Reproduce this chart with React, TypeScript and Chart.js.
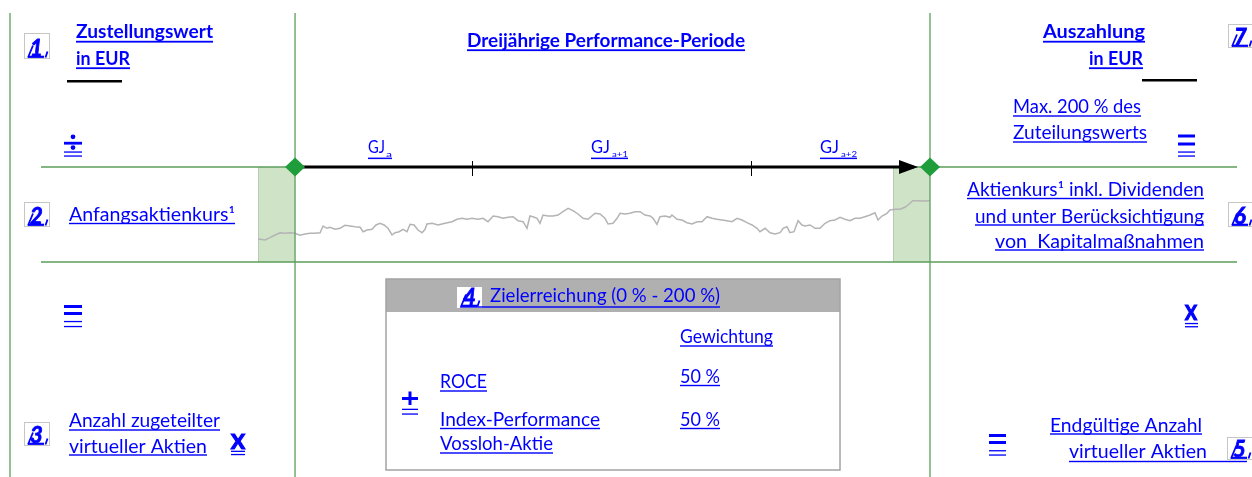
import { useEffect, useRef } from "react";
import { Chart, registerables } from "chart.js";

Chart.register(...registerables);

// Stock price path (months relative to start of the performance period, price in EUR – illustrative)
const months = [-2.10,-1.98,-1.70,-1.42,-1.13,-0.85,-0.57,-0.28,0,0.28,0.57,0.85,1.13,1.42,1.59,1.81,1.98,2.27,2.55,2.83,3.12,3.40,3.69,3.86,4.08,4.37,4.59,4.82,5.05,5.27,5.50,5.67,5.90,6.12,6.35,6.52,6.75,6.97,7.20,7.37,7.48,7.77,8.11,8.50,8.90,9.18,9.47,9.75,10.03,10.37,10.66,10.94,11.23,11.51,11.79,12.08,12.36,12.64,12.93,13.15,13.32,13.49,13.72,13.89,14.06,14.34,14.63,14.91,15.19,15.48,15.76,16.04,16.33,16.61,16.89,17.01,17.29,17.57,17.75,18.03,18.26,18.43,18.71,18.99,19.28,19.56,19.84,20.13,20.30,20.52,20.69,20.98,21.26,21.37,21.66,21.94,22.22,22.51,22.79,23.07,23.36,23.64,23.92,24.21,24.49,24.77,25.06,25.34,25.62,25.91,26.19,26.36,26.65,26.93,27.21,27.50,27.67,27.89,28.06,28.29,28.52,28.74,28.91,29.20,29.48,29.76,30.05,30.33,30.61,30.90,31.18,31.46,31.75,32.03,32.31,32.60,32.88,33.05,33.28,33.56,33.73,34.02,34.30,34.58,34.75,35.03,35.32,35.60,36.00];
const prices = [40.5,40.35,40.0,41.15,42.5,43.65,43.35,43.65,43.35,42.35,43.0,43.35,43.35,43.65,47.0,45.85,46.35,45.35,45.85,47.35,47.0,46.65,46.35,44.15,45.0,45.35,47.5,48.35,47.5,45.85,42.5,43.65,44.15,45.35,44.15,47.85,47.5,45.0,43.65,45.35,48.0,48.35,47.5,48.35,49.15,50.35,50.85,50.35,50.85,50.35,50.85,49.15,52.0,51.65,50.85,51.35,51.65,49.65,49.15,45.85,52.0,51.65,50.85,48.35,52.5,52.0,52.0,52.5,54.15,55.85,54.65,53.0,50.85,50.35,52.5,53.35,53.0,50.85,48.0,48.35,50.85,53.35,53.0,53.35,54.15,54.15,52.5,52.0,50.85,47.85,51.65,52.0,51.35,52.5,50.35,50.0,48.65,48.0,49.15,49.15,51.65,50.85,50.35,50.0,49.65,49.15,50.85,50.0,48.65,47.5,45.85,44.15,45.85,43.65,43.0,43.65,45.85,46.65,43.65,44.15,49.65,47.5,47.0,47.5,45.85,45.85,48.35,49.65,50.0,51.35,50.35,49.65,50.85,50.85,51.65,52.5,53.65,50.0,52.0,53.35,55.0,55.35,55.35,56.35,57.5,59.65,59.65,59.5,59.65];

const periodStart = 0;
const periodEnd = 36;
const refWindow = 2.1; // months of averaging window before start / before end
const fiscalYears = ["a", "a+1", "a+2"];
const goalNames = ["ROCE", "Index-Performance", "Vossloh-Aktie"];
const goalWeights = [50, 50];

const BLUE = "#0000ff";
const GREEN_LINE = "#5c9f5c";
const DIAMOND = "#1f9d3a";
const SHADE = "#cfe3c7";
const FONT = "Lato, 'Open Sans', sans-serif";

type Ctx = CanvasRenderingContext2D;

function fitText(ctx: Ctx, s: string, left: number, right: number, base: number, size: number, bold: boolean, ul?: number, ulLeft?: number, ulRight?: number, heavy?: boolean) {
  ctx.save();
  ctx.font = `${bold ? "bold " : ""}${size}px ${FONT}`;
  ctx.fillStyle = BLUE;
  ctx.strokeStyle = BLUE;
  ctx.textBaseline = "alphabetic";
  ctx.textAlign = "left";
  const w = ctx.measureText(s).width;
  const target = right - left;
  ctx.translate(left, base);
  ctx.scale(target / w, 1);
  ctx.fillText(s, 0, 0);
  if (heavy) {
    ctx.lineWidth = 1.2;
    ctx.strokeText(s, 0, 0);
  }
  ctx.restore();
  if (ul !== undefined) {
    ctx.save();
    ctx.fillStyle = BLUE;
    const l = ulLeft ?? left;
    const r = ulRight ?? right;
    ctx.fillRect(l, ul - 0.7, r - l, bold ? 1.8 : 1.4);
    ctx.restore();
  }
}

function doubleLines(ctx: Ctx, x1: number, x2: number, y1: number, y2: number) {
  ctx.fillStyle = BLUE;
  ctx.fillRect(x1, y1 - 0.6, x2 - x1, 1.3);
  ctx.fillRect(x1, y2 - 0.6, x2 - x1, 1.3);
}

function equiv(ctx: Ctx, x1: number, x2: number, b1: number, b2: number, l1: number, l2: number) {
  ctx.fillStyle = BLUE;
  ctx.fillRect(x1, b1 - 1.5, x2 - x1, 3);
  ctx.fillRect(x1, b2 - 1.5, x2 - x1, 3);
  doubleLines(ctx, x1, x2, l1, l2);
}

function digitBox(ctx: Ctx, d: string, x: number, y: number, w: number, h: number, border: boolean, fill?: string) {
  ctx.save();
  if (fill) {
    ctx.fillStyle = fill;
    ctx.fillRect(x, y, w, h);
  }
  if (border) {
    ctx.strokeStyle = "#c6c6c6";
    ctx.lineWidth = 1;
    ctx.strokeRect(x + 0.5, y + 0.5, w - 1, h - 1);
  }
  ctx.fillStyle = BLUE;
  ctx.strokeStyle = BLUE;
  ctx.font = `italic bold 22px ${FONT}`;
  ctx.textAlign = "left";
  ctx.textBaseline = "alphabetic";
  const bl = y + h - 3.5;
  ctx.fillText(d, x + 6, bl);
  ctx.lineWidth = 0.8;
  ctx.strokeText(d, x + 6, bl);
  ctx.fillRect(x + 4, bl + 0.2, 16, 2.2);
  ctx.lineWidth = 1.8;
  ctx.beginPath();
  ctx.moveTo(x + 4, bl + 2);
  ctx.lineTo(x + 9, bl - 10);
  ctx.moveTo(x + w - 2.5, bl - 4);
  ctx.lineTo(x + w - 4.5, bl + 2);
  ctx.stroke();
  ctx.restore();
}

const diagramPlugin = {
  id: "diagram",
  beforeDatasetsDraw(chart: any) {
    const ctx: Ctx = chart.ctx;
    const xs = chart.scales.x;
    const { top, bottom } = chart.chartArea;
    const boxes = [
      [periodStart - refWindow, periodStart],
      [periodEnd - refWindow, periodEnd],
    ];
    ctx.save();
    for (const [a, b] of boxes) {
      const x1 = xs.getPixelForValue(a);
      const x2 = xs.getPixelForValue(b);
      ctx.fillStyle = SHADE;
      ctx.fillRect(x1, top, x2 - x1, bottom - top);
      ctx.strokeStyle = "#b9c9b3";
      ctx.lineWidth = 1;
      ctx.beginPath();
      ctx.moveTo(Math.round(x1) + 0.5, top);
      ctx.lineTo(Math.round(x1) + 0.5, bottom);
      ctx.stroke();
    }
    ctx.restore();
  },
  afterDatasetsDraw(chart: any) {
    const ctx: Ctx = chart.ctx;
    const xs = chart.scales.x;
    const { top, bottom } = chart.chartArea;
    const xStart = xs.getPixelForValue(periodStart);
    const xEnd = xs.getPixelForValue(periodEnd);
    const H = chart.height;

    ctx.save();
    // green grid lines
    ctx.strokeStyle = GREEN_LINE;
    ctx.lineWidth = 1.3;
    ctx.beginPath();
    for (const vx of [10, xStart, xEnd]) {
      ctx.moveTo(vx, 13);
      ctx.lineTo(vx, H);
    }
    for (const hy of [top, bottom]) {
      ctx.moveTo(41, hy);
      ctx.lineTo(1237, hy);
    }
    ctx.stroke();

    // timeline arrow
    ctx.strokeStyle = "#000";
    ctx.lineWidth = 3;
    ctx.beginPath();
    ctx.moveTo(xStart, top);
    ctx.lineTo(xEnd - 16, top);
    ctx.stroke();
    ctx.fillStyle = "#000";
    ctx.beginPath();
    ctx.moveTo(xEnd - 12, top);
    ctx.lineTo(xEnd - 31, top - 7);
    ctx.lineTo(xEnd - 31, top + 7);
    ctx.closePath();
    ctx.fill();
    ctx.lineWidth = 1;
    ctx.beginPath();
    for (const tx of [472.5, 751.5]) {
      ctx.moveTo(tx, top - 6);
      ctx.lineTo(tx, top + 9);
    }
    ctx.stroke();

    // diamonds
    ctx.fillStyle = DIAMOND;
    for (const dx of [xStart, xEnd]) {
      ctx.beginPath();
      ctx.moveTo(dx, top - 9.5);
      ctx.lineTo(dx + 10, top);
      ctx.lineTo(dx, top + 9.5);
      ctx.lineTo(dx - 10, top);
      ctx.closePath();
      ctx.fill();
    }

    // black lines under "in EUR"
    ctx.fillStyle = "#000";
    ctx.fillRect(67, 80, 55, 2.5);
    ctx.fillRect(1142, 79, 55, 2.5);
    ctx.restore();

    // headings
    fitText(ctx, "Zustellungswert", 76, 213, 38, 18.5, true, 41.5);
    fitText(ctx, "in EUR", 76, 130, 65, 18.5, true, 68);
    fitText(ctx, "Dreijährige Performance-Periode", 467, 745, 46.5, 18.5, true, 50);
    fitText(ctx, "Auszahlung", 1043, 1145, 38, 18.5, true, 41.5);
    fitText(ctx, "in EUR", 1089, 1143, 65, 18.5, true, 68);

    // fiscal years
    const gj = [[368, 385, 386, 392], [591, 610, 612, 628], [820, 839, 841, 857]];
    gj.forEach((g, i) => {
      fitText(ctx, "GJ", g[0], g[1], 153, 18, false);
      fitText(ctx, fiscalYears[i], g[2], g[3], 157, 8, false);
      ctx.fillStyle = BLUE;
      ctx.fillRect(g[0], 157.6, g[3] - g[0], 1.5);
    });

    // right top
    fitText(ctx, "Max. 200 % des", 1013, 1141, 113, 18.5, false, 116);
    fitText(ctx, "Zuteilungswerts", 1013, 1147, 139, 18.5, false, 142);
    equiv(ctx, 1178, 1195, 136, 144, 152, 156);

    // left top divide
    ctx.save();
    ctx.fillStyle = BLUE;
    ctx.beginPath();
    ctx.arc(73, 136.8, 2.4, 0, Math.PI * 2);
    ctx.arc(73, 147.6, 2.4, 0, Math.PI * 2);
    ctx.fill();
    ctx.fillRect(64, 141.8, 18, 2.8);
    doubleLines(ctx, 64, 82, 152, 156);
    ctx.restore();

    // row 2
    fitText(ctx, "Anfangsaktienkurs¹", 69, 235, 221, 18.5, false, 223.5);
    fitText(ctx, "Aktienkurs¹ inkl. Dividenden", 967, 1204, 196, 18.5, false, 198.5);
    fitText(ctx, "und unter Berücksichtigung", 975, 1204, 222.5, 18.5, false, 225);
    fitText(ctx, "von  Kapitalmaßnahmen", 995, 1204, 247.5, 18.5, false, 250);

    // number icons
    digitBox(ctx, "1", 24, 33, 26, 26, true);
    digitBox(ctx, "2", 24, 202, 26, 25, true);
    digitBox(ctx, "3", 24, 422, 26, 24, true);
    digitBox(ctx, "7", 1228, 24, 26, 24, true);
    digitBox(ctx, "6", 1228, 202, 26, 25, true);
    digitBox(ctx, "5", 1227, 437, 26, 23, true);

    // equals / multiply signs
    equiv(ctx, 64, 82, 306.5, 313.5, 321.5, 326.5);
    equiv(ctx, 989, 1006, 435.5, 442.5, 450.7, 455);
    fitText(ctx, "X", 1185, 1197, 320, 20, true, undefined, undefined, undefined, true);
    doubleLines(ctx, 1185, 1198, 323.5, 326.7);
    fitText(ctx, "X", 231, 245, 448.5, 20, true, undefined, undefined, undefined, true);
    doubleLines(ctx, 231, 245, 451.3, 454.5);

    // bottom texts
    fitText(ctx, "Anzahl zugeteilter", 69, 220, 427, 18.5, false, 430);
    fitText(ctx, "virtueller Aktien", 69, 207, 452.5, 18.5, false, 455);
    fitText(ctx, "Endgültige Anzahl", 1050, 1202, 431.5, 18.5, false, 434);
    fitText(ctx, "virtueller Aktien", 1069, 1207, 458, 18.5, false, 461.5, 1069, 1247);

    // Zielerreichung box
    ctx.save();
    ctx.fillStyle = "#b0b0b0";
    ctx.fillRect(386, 279, 454, 33);
    ctx.strokeStyle = "#a3a3a3";
    ctx.lineWidth = 1.5;
    ctx.strokeRect(386, 279, 454, 191);
    ctx.restore();
    digitBox(ctx, "4", 457, 287, 25, 21, false, "#ffffff");
    fitText(ctx, "Zielerreichung (0 % - 200 %)", 490, 720, 302, 18.5, false, 307, 460, 720);
    fitText(ctx, "Gewichtung", 680, 773, 342.5, 18.5, false, 346);
    fitText(ctx, `${goalWeights[0]} %`, 680, 720, 382.5, 18.5, false, 385.5);
    fitText(ctx, goalNames[0], 440, 487, 388, 18.5, false, 391);
    fitText(ctx, goalNames[1], 440, 600, 425.5, 18.5, false, 428.5);
    fitText(ctx, `${goalWeights[1]} %`, 680, 720, 425.5, 18.5, false, 428.5);
    fitText(ctx, goalNames[2], 440, 553, 450, 18.5, false, 453);
    // plus sign with double underline
    ctx.save();
    ctx.fillStyle = BLUE;
    ctx.fillRect(408.5, 391.5, 3, 13.5);
    ctx.fillRect(402, 397, 16, 3);
    doubleLines(ctx, 402, 418, 409.3, 414);
    ctx.restore();
  },
};

export default function App() {
  const ref = useRef<HTMLCanvasElement | null>(null);
  useEffect(() => {
    if (!ref.current) return;
    const chart = new Chart(ref.current, {
      type: "line",
      data: {
        datasets: [
          {
            data: months.map((m, i) => ({ x: m, y: prices[i] })),
            borderColor: "#b4b4b4",
            borderWidth: 1.5,
            pointRadius: 0,
            tension: 0,
            fill: false,
          },
        ],
      },
      options: {
        responsive: false,
        animation: false,
        events: [],
        layout: { padding: { left: 258, right: 322, top: 167, bottom: 215 } },
        scales: {
          x: { type: "linear", min: periodStart - refWindow, max: periodEnd, display: false },
          y: { type: "linear", min: 29, max: 76.5, display: false },
        },
        plugins: { legend: { display: false }, tooltip: { enabled: false } },
      },
      plugins: [diagramPlugin],
    });
    const fonts: any = (document as any).fonts;
    if (fonts && fonts.load) {
      fonts.load(`18px Lato`).then(() => chart.draw()).catch(() => {});
    }
    return () => chart.destroy();
  }, []);
  return (
    <div style={{ position: "fixed", left: 0, top: 0, width: 1252, height: 477, background: "#fff" }}>
      <canvas ref={ref} width={1252} height={477} style={{ display: "block" }} />
    </div>
  );
}
